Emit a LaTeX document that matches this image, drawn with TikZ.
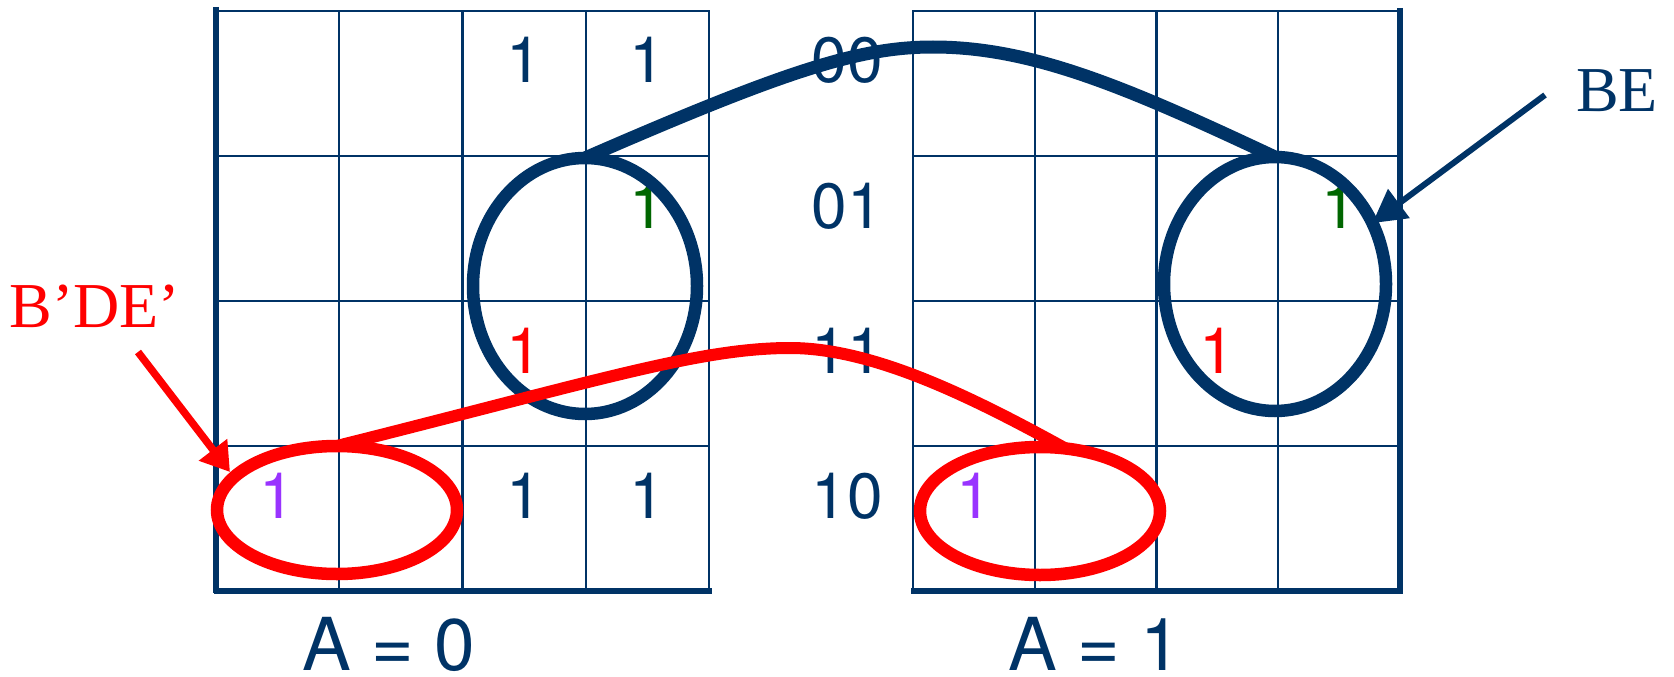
\documentclass[tikz,border=0pt]{standalone}
\usepackage{fontspec}
\setmainfont{TeX Gyre Heros}
\newfontfamily\serifA{Liberation Serif}
\usetikzlibrary{shapes.geometric,arrows.meta}
\definecolor{navy}{RGB}{0,51,102}
\definecolor{kred}{RGB}{255,0,0}
\definecolor{kgreen}{RGB}{0,102,0}
\definecolor{kpurple}{RGB}{153,51,255}
\begin{document}
\begin{tikzpicture}[x=1pt,y=-1pt,
  gridline/.style={draw=navy, line width=2.4pt},
  borderline/.style={draw=navy, line width=5.5pt},
  digit/.style={anchor=base, inner sep=0pt, font=\fontsize{64}{64}\selectfont},
  alabel/.style={anchor=base, inner sep=0pt, text=navy, font=\fontsize{73}{73}\selectfont},
  serlabel/.style={anchor=base, inner sep=0pt, font=\serifA\fontsize{64}{64}\selectfont},
  loopb/.style={ellipse, draw=navy, line width=12.5pt, inner sep=0pt, outer sep=0pt},
  loopr/.style={ellipse, draw=kred, line width=12.5pt, inner sep=0pt, outer sep=0pt},
  bluecurve/.style={draw=navy, line width=13pt},
  redcurve/.style={draw=kred, line width=12pt},
]
\useasboundingbox (0,0) rectangle (1674,677);

% ---------- left map (A = 0)
\draw[gridline] (216,11) rectangle (709,591);
\foreach \x in {339.25,462.5,585.75} \draw[gridline] (\x,11) -- (\x,591);
\foreach \y in {156,301,446} \draw[gridline] (216,\y) -- (709,\y);
\draw[borderline] (216,7) -- (216,593);
\draw[borderline] (214,591) -- (712,591);

% ---------- right map (A = 1)
\draw[gridline] (913,11) rectangle (1400,591);
\foreach \x in {1034.75,1156.5,1278.25} \draw[gridline] (\x,11) -- (\x,591);
\foreach \y in {156,301,446} \draw[gridline] (913,\y) -- (1400,\y);
\draw[borderline] (1400,8) -- (1400,593);
\draw[borderline] (911,591) -- (1403,591);

% ---------- row labels
\node[digit, text=navy] (r00) at (847,83) {00};
\node[digit, text=navy] (r01) at (847,228) {01};
\node[digit, text=navy] (r11) at (847,373) {11};
\node[digit, text=navy] (r10) at (847,518) {10};

% ---------- cell entries, left map
\node[digit, text=navy] (a0r0c2) at (524.1,83) {1};
\node[digit, text=navy] (a0r0c3) at (647.4,83) {1};
\node[digit, text=kgreen] (a0r1c3) at (647.4,228) {1};
\node[digit, text=kred] (a0r2c2) at (524.1,373) {1};
\node[digit, text=kpurple] (a0r3c0) at (277.6,518) {1};
\node[digit, text=navy] (a0r3c2) at (524.1,518) {1};
\node[digit, text=navy] (a0r3c3) at (647.4,518) {1};

% ---------- cell entries, right map
\node[digit, text=kgreen] (a1r1c3) at (1339.1,228) {1};
\node[digit, text=kred] (a1r2c2) at (1217.4,373) {1};
\node[digit, text=kpurple] (a1r3c0) at (973.9,518) {1};

% ---------- bottom labels
\node[alabel] (A0) at (389,670) {A = 0};
\node[alabel] (A1) at (1095,670) {A = 1};

% ---------- groups
\node[loopb, minimum width=224pt, minimum height=256pt] (lb) at (585,286) {};
\node[loopb, minimum width=222pt, minimum height=254pt] (rb) at (1275,284) {};
\node[loopr, minimum width=240pt, minimum height=128pt] (lr) at (337,510) {};
\node[loopr, minimum width=240pt, minimum height=128pt] (rr) at (1040,511) {};

\coordinate (bpeak) at (933,47);
\coordinate (rpeak) at (790,348);
\draw[bluecurve] (lb.north) .. controls (787,70) and (860,47) .. (bpeak)
   .. controls (1033,47) and (1128,88) .. (rb.north);
\draw[redcurve] (lr.north) .. controls (600,380) and (700,348) .. (rpeak)
   .. controls (870,348) and (965,393) .. (rr.68);

% ---------- term labels with arrows
\node[serlabel, text=navy] (be) at (1617,111) {BE};
\node[serlabel, text=kred] (bde) at (95,327) {B’DE’};
\coordinate (bestart) at (1545,95);
\coordinate (bdestart) at (138,352);
\coordinate (bdetip) at (230,472);
\draw[navy, line width=6pt, -{Triangle[length=33pt,width=35pt]}] (bestart) -- (rb.32);
\draw[kred, line width=7.5pt, -{Triangle[length=28pt,width=34pt]}] (bdestart) -- (bdetip);
\end{tikzpicture}
\end{document}
